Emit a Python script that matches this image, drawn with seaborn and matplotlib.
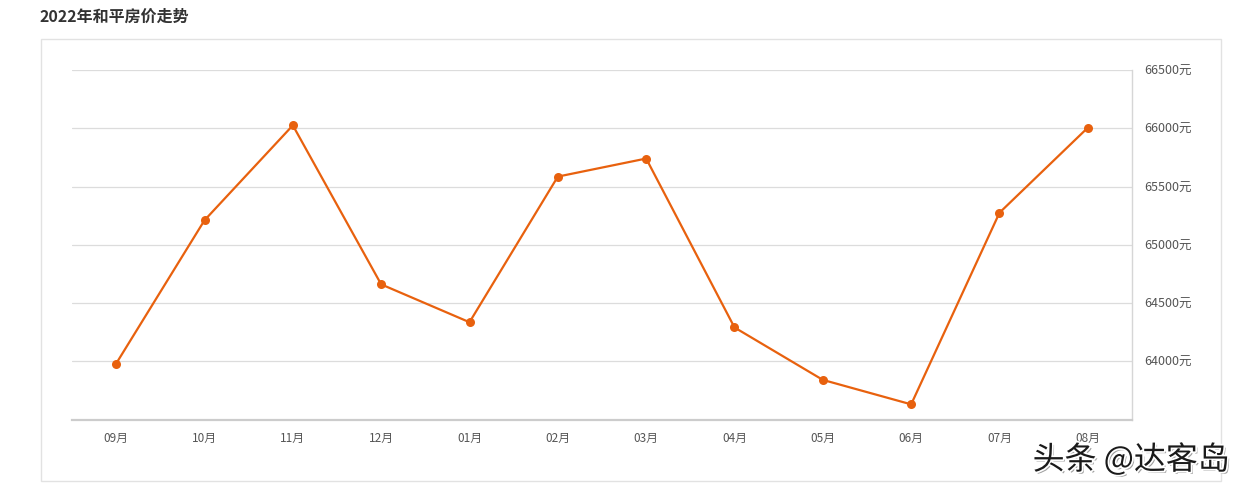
import pandas as pd
import matplotlib.pyplot as plt
import matplotlib.patheffects as pe
from matplotlib.patches import Rectangle
import seaborn as sns

# 数据
months = ['09月', '10月', '11月', '12月', '01月', '02月', '03月', '04月', '05月', '06月', '07月', '08月']
prices = [63980, 65210, 66025, 64660, 64335, 65585, 65740, 64290, 63840, 63630, 65275, 66005]
y_ticks = [64000, 64500, 65000, 65500, 66000, 66500]

df = pd.DataFrame({'month': months, 'price': prices})

sns.set_theme(style="white")
plt.rcParams['font.family'] = ['Noto Sans CJK SC', 'DejaVu Sans']

fig = plt.figure(figsize=(12.48, 4.93), dpi=100)
ax = fig.add_axes([72 / 1248, 1 - 419.5 / 493, (1132 - 72) / 1248, (419.5 - 70) / 493])

# 外框
fig.patches.append(Rectangle((41 / 1248, 12 / 493), 1180 / 1248, 442 / 493,
                             transform=fig.transFigure, fill=False,
                             edgecolor='#e2e2e2', linewidth=1))

sns.lineplot(data=df, x='month', y='price', sort=False, ax=ax, color='#e8610e',
             linewidth=1.6, marker='o', markersize=6.5, markeredgewidth=0)

ax.set_xlim(-0.5, len(months) - 0.5)
ax.set_ylim(63500, 66500)
ax.set_yticks(y_ticks)
ax.set_yticklabels([f'{v}元' for v in y_ticks])
ax.yaxis.tick_right()
ax.grid(axis='y', color='#dcdcdc', linewidth=0.9)
ax.set_xlabel('')
ax.set_ylabel('')

for side in ['top', 'left']:
    ax.spines[side].set_visible(False)
ax.spines['right'].set_color('#d6d6d6')
ax.spines['bottom'].set_color('#cccccc')
ax.spines['bottom'].set_linewidth(1.6)
ax.spines['right'].set_linewidth(1)

ax.tick_params(axis='x', length=4, color='#cccccc', labelsize=8.5, labelcolor='#555555', pad=5)
ax.tick_params(axis='y', length=0, labelsize=9, labelcolor='#555555', pad=9)

fig.text(40 / 1248, 1 - 17 / 493, '2022年和平房价走势', fontsize=11.5, fontweight='bold',
         color='#333333', va='center', ha='left')

# 水印
fig.text(1230 / 1248, 1 - 460 / 493, '头条 @达客岛', fontsize=23, color='#1a1a1a',
         ha='right', va='center',
         path_effects=[pe.SimplePatchShadow(offset=(1.5, -1.5), shadow_rgbFace='#888888', alpha=0.8),
                       pe.withStroke(linewidth=2.5, foreground='white')])

plt.savefig('out.png', dpi=100)
